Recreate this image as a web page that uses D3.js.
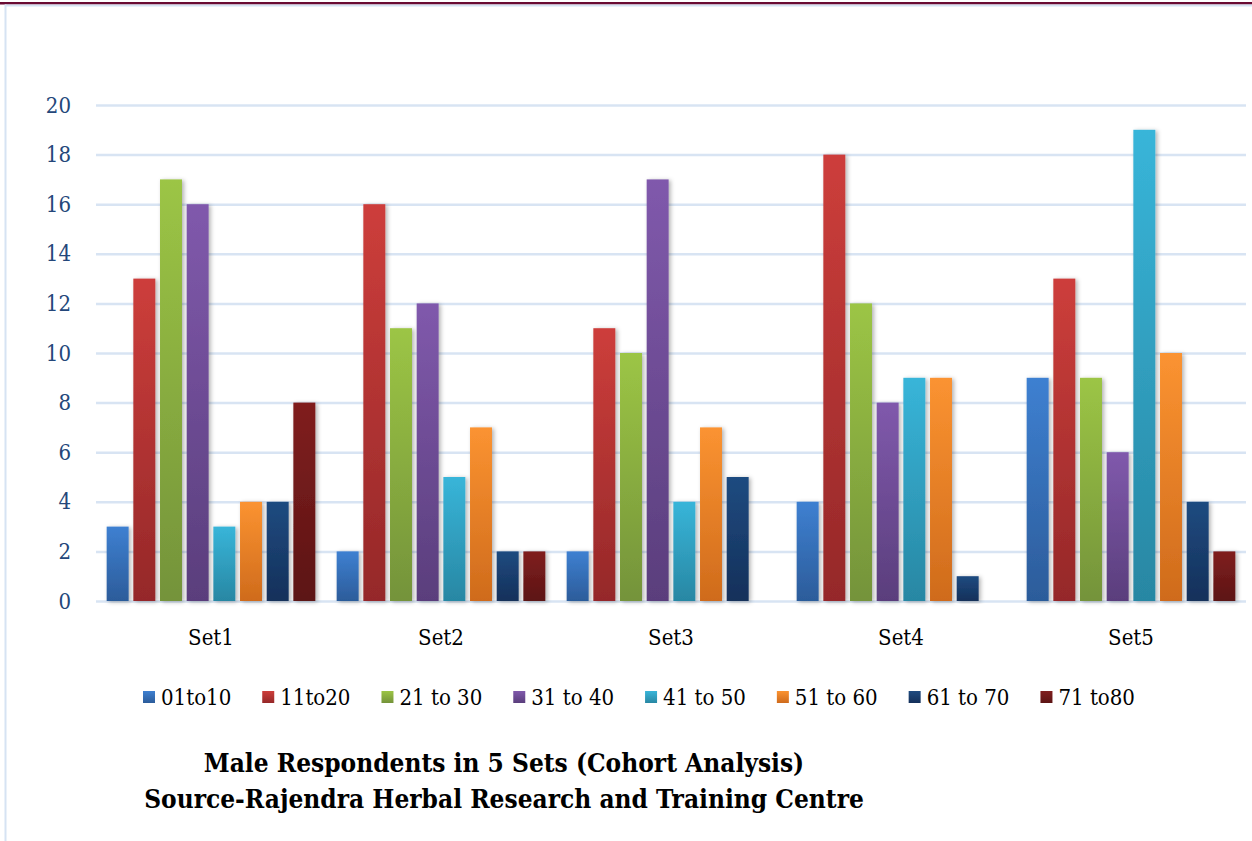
<!DOCTYPE html>
<html lang="en">
<head>
<meta charset="utf-8">
<title>Male Respondents in 5 Sets</title>
<script src="https://cdn.jsdelivr.net/npm/d3@7"></script>
<style>
  body { margin: 0; background: #fff; }
  svg text { font-family: "DejaVu Serif Condensed", "DejaVu Serif", serif; font-stretch: condensed; }
  .grid line { stroke: #d8e4f3; stroke-width: 2.5; }
  .grid path { display: none; }
  .grid text { fill: #24477a; font-size: 22px; }
  .xaxis path, .xaxis line { display: none; }
  .xaxis text { fill: #000; font-size: 22px; }
  .legend text { font-size: 22px; fill: #000; }
  .title { font-size: 26px; font-weight: bold; fill: #000; }
</style>
</head>
<body>
<svg id="chart" width="1252" height="841"></svg>
<script>
// data
var sets = ["Set1", "Set2", "Set3", "Set4", "Set5"];
var ageGroups = ["01to10", "11to20", "21 to 30", "31 to 40", "41 to 50", "51 to 60", "61 to 70", "71 to80"];
var set1 = [3, 13, 17, 16, 3, 4, 4, 8];
var set2 = [2, 16, 11, 12, 5, 7, 2, 2];
var set3 = [2, 11, 10, 17, 4, 7, 5, 0];
var set4 = [4, 18, 12, 8, 9, 9, 1, 0];
var set5 = [9, 13, 9, 6, 19, 10, 4, 2];
var yTicks = [0, 2, 4, 6, 8, 10, 12, 14, 16, 18, 20];
var titleLines = ["Male Respondents in 5 Sets (Cohort Analysis)", "Source-Rajendra Herbal Research and Training Centre"];

// gradient colours per age group [top, bottom]
var colorTop = ["#3e80d1", "#cd3e3b", "#9cc545", "#8059ac", "#38b5d9", "#fb9331", "#1f4b80", "#801f1f"];
var colorBot = ["#2c5c9a", "#952829", "#74933a", "#5a3e7c", "#2887a3", "#cf6b1c", "#14305a", "#5c1414"];

var values = [set1, set2, set3, set4, set5];

var svg = d3.select("#chart");

// page frame: maroon rule on top, light blue edges
svg.append("rect").attr("x", 0).attr("y", 2).attr("width", 1252).attr("height", 2.5).attr("fill", "#6a0a33");
svg.append("rect").attr("x", 5).attr("y", 4.5).attr("width", 1247).attr("height", 2).attr("fill", "#d6e3f3");
svg.append("rect").attr("x", 4.5).attr("y", 4.5).attr("width", 2).attr("height", 837).attr("fill", "#d6e3f3");

var defs = svg.append("defs");
ageGroups.forEach(function(a, i) {
  var g = defs.append("linearGradient")
    .attr("id", "grad" + i)
    .attr("x1", 0).attr("y1", 0).attr("x2", 0).attr("y2", 1);
  g.append("stop").attr("offset", "0%").attr("stop-color", colorTop[i]);
  g.append("stop").attr("offset", "100%").attr("stop-color", colorBot[i]);
});
var shadow = defs.append("filter").attr("id", "shadow")
  .attr("x", "-50%").attr("y", "-10%").attr("width", "200%").attr("height", "120%");
shadow.append("feDropShadow")
  .attr("dx", 2).attr("dy", 1).attr("stdDeviation", 2.2)
  .attr("flood-color", "#000").attr("flood-opacity", 0.3);

var plotLeft = 96, plotRight = 1246, plotTop = 105, plotBottom = 601;

var x0 = d3.scaleBand().domain(sets).range([plotLeft, plotRight]);
var x1 = d3.scaleBand().domain(d3.range(ageGroups.length))
  .range([0, x0.bandwidth()]).paddingInner(0.176).paddingOuter(0.4);
var y = d3.scaleLinear().domain([0, 20]).range([plotBottom, plotTop]);

// gridlines + y labels
svg.append("g")
  .attr("class", "grid")
  .attr("transform", "translate(" + plotLeft + ",0)")
  .call(d3.axisLeft(y).tickValues(yTicks).tickSize(-(plotRight - plotLeft)).tickPadding(25));

// bars
var groups = svg.append("g").selectAll("g")
  .data(values)
  .enter().append("g")
  .attr("transform", function(d, i) { return "translate(" + x0(sets[i]) + ",0)"; });

groups.selectAll("rect")
  .data(function(d) { return d.map(function(v, i) { return {v: v, i: i}; }); })
  .enter().filter(function(d) { return d.v > 0; })
  .append("rect")
  .attr("x", function(d) { return x1(d.i); })
  .attr("y", function(d) { return y(d.v); })
  .attr("width", x1.bandwidth())
  .attr("height", function(d) { return y(0) - y(d.v); })
  .attr("fill", function(d) { return "url(#grad" + d.i + ")"; })
  .attr("filter", "url(#shadow)");

// x axis labels
svg.append("g")
  .attr("class", "xaxis")
  .attr("transform", "translate(0," + plotBottom + ")")
  .call(d3.axisBottom(x0).tickSize(0).tickPadding(28));

// legend
var legend = svg.append("g").attr("class", "legend");
var lx = 143;
ageGroups.forEach(function(a, i) {
  legend.append("rect")
    .attr("x", lx).attr("y", 691)
    .attr("width", 12).attr("height", 12)
    .attr("fill", "url(#grad" + i + ")");
  var t = legend.append("text")
    .attr("x", lx + 18).attr("y", 705)
    .text(a);
  lx += 18 + t.node().getComputedTextLength() + 31;
});

// title
svg.selectAll(".title")
  .data(titleLines)
  .enter().append("text")
  .attr("class", "title")
  .attr("x", 504)
  .attr("y", function(d, i) { return 772 + i * 36; })
  .attr("text-anchor", "middle")
  .text(function(d) { return d; });
</script>
</body>
</html>
